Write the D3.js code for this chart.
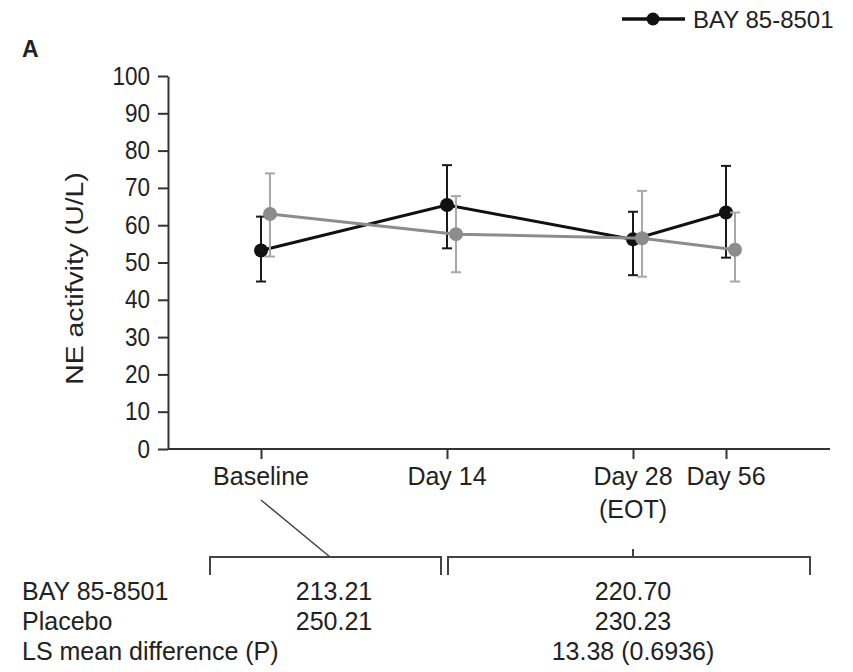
<!DOCTYPE html>
<meta charset="utf-8">
<style>
  body { margin: 0; background: #fff; }
  svg text { font-family: "Liberation Sans", Arial, sans-serif; fill: #222; }
  .axis path, .axis line { stroke: #333; stroke-width: 2; }
  .bracket { stroke: #444; stroke-width: 2; fill: none; }
</style>
<svg width="853" height="672"></svg>
<script src="https://d3js.org/d3.v7.min.js"></script>
<script>
// ---- data ----
var timeLabels = ["Baseline", "Day 14", "Day 28", "Day 56"];
var timeSub = ["", "", "(EOT)", ""];
var days = [0, 14, 28, 56];

var bayMean = [53.2, 65.4, 56.2, 63.4];
var bayLow  = [44.9, 53.8, 46.6, 51.3];
var bayHigh = [62.3, 76.1, 63.6, 75.9];

var plaMean = [63.0, 57.6, 56.5, 53.4];
var plaLow  = [51.6, 47.4, 46.2, 44.9];
var plaHigh = [73.9, 67.8, 69.2, 63.4];

var yTicks = [0, 10, 20, 30, 40, 50, 60, 70, 80, 90, 100];

var tableRows = ["BAY 85-8501", "Placebo", "LS mean difference (P)"];
var tableBaseline = ["213.21", "250.21", ""];
var tableEot = ["220.70", "230.23", "13.38 (0.6936)"];

// ---- layout ----
var svg = d3.select("svg");
var plotLeft = 168, plotRight = 830, plotTop = 76, plotBottom = 449;
var unit = 93;           // half the spacing between the first three visits
var slot = [1, 3, 5, 6]; // where each visit sits along the axis

var x = d3.scaleLinear()
    .domain(days)
    .range(slot.map(function(s) { return plotLeft + unit * s; }));
var y = d3.scaleLinear().domain([0, 100]).range([plotBottom, plotTop]);

// panel letter
svg.append("text")
    .attr("x", 22).attr("y", 57)
    .style("font-size", "23px").style("font-weight", "bold")
    .text("A");

// legend
var lg = svg.append("g").attr("transform", "translate(622,19)");
lg.append("line").attr("x1", 0).attr("x2", 63).attr("y1", 0).attr("y2", 0)
    .attr("stroke", "#111").attr("stroke-width", 3.5);
lg.append("circle").attr("cx", 31).attr("cy", 0).attr("r", 6.5).attr("fill", "#111");
lg.append("text").attr("x", 71).attr("y", 8.5)
    .style("font-size", "24px").text("BAY 85-8501");

// y axis
var yAxis = svg.append("g")
    .attr("class", "axis")
    .attr("transform", "translate(" + plotLeft + ",0)")
    .call(d3.axisLeft(y).tickValues(yTicks).tickSize(10).tickSizeOuter(0).tickPadding(8));
// labels are a little taller than wide in the original
yAxis.selectAll("text")
    .style("font-size", "25px").attr("fill", "#222")
    .attr("x", -18 / 0.9)
    .attr("transform", "scale(0.9,1)");

svg.append("text")
    .attr("transform", "translate(83," + ((plotTop + plotBottom) / 2 + 16) + ") rotate(-90) scale(1.18,1)")
    .attr("text-anchor", "middle")
    .style("font-size", "24px")
    .text("NE actifvity (U/L)");

// x axis
svg.append("line")
    .attr("x1", plotLeft).attr("x2", plotRight)
    .attr("y1", plotBottom).attr("y2", plotBottom)
    .attr("stroke", "#333").attr("stroke-width", 2);

var xAxis = svg.append("g")
    .attr("class", "axis")
    .attr("transform", "translate(0," + plotBottom + ")")
    .call(d3.axisBottom(x).tickValues(days).tickSize(10).tickSizeOuter(0).tickFormat(""));
xAxis.select(".domain").remove();

var xl = svg.append("g").selectAll("g")
    .data(days)
    .enter().append("g")
    .attr("transform", function(d) { return "translate(" + x(d) + "," + plotBottom + ")"; });
xl.append("text")
    .attr("y", 36).attr("text-anchor", "middle")
    .style("font-size", "25px")
    .text(function(d, i) { return timeLabels[i]; });
xl.append("text")
    .attr("y", 69).attr("text-anchor", "middle")
    .style("font-size", "25px")
    .text(function(d, i) { return timeSub[i]; });

// series
function drawSeries(mean, low, high, shift, lineColor, barColor) {
  var pts = days.map(function(d, i) {
    return { x: x(d) + shift, m: mean[i], lo: low[i], hi: high[i] };
  });
  var g = svg.append("g");

  g.append("path")
      .datum(pts)
      .attr("fill", "none")
      .attr("stroke", lineColor)
      .attr("stroke-width", 3)
      .attr("d", d3.line().x(function(p) { return p.x; }).y(function(p) { return y(p.m); }));

  var eb = g.selectAll(".eb").data(pts).enter().append("g")
      .attr("stroke", barColor).attr("stroke-width", 2);
  eb.append("line")
      .attr("x1", function(p) { return p.x; }).attr("x2", function(p) { return p.x; })
      .attr("y1", function(p) { return y(p.lo); }).attr("y2", function(p) { return y(p.hi); });
  eb.append("line")
      .attr("x1", function(p) { return p.x - 5; }).attr("x2", function(p) { return p.x + 5; })
      .attr("y1", function(p) { return y(p.hi); }).attr("y2", function(p) { return y(p.hi); });
  eb.append("line")
      .attr("x1", function(p) { return p.x - 5; }).attr("x2", function(p) { return p.x + 5; })
      .attr("y1", function(p) { return y(p.lo); }).attr("y2", function(p) { return y(p.lo); });

  g.selectAll("circle").data(pts).enter().append("circle")
      .attr("cx", function(p) { return p.x; })
      .attr("cy", function(p) { return y(p.m); })
      .attr("r", 7)
      .attr("fill", lineColor);
}

drawSeries(bayMean, bayLow, bayHigh, 0, "#111", "#1a1a1a");
drawSeries(plaMean, plaLow, plaHigh, 9, "#8c8c8c", "#a8a8a8");

// summary table under the chart
var brY = 557, brDrop = 18;
svg.append("path").attr("class", "bracket")
    .attr("d", "M210," + (brY + brDrop) + "V" + brY + "H441V" + (brY + brDrop));
svg.append("path").attr("class", "bracket")
    .attr("d", "M448," + (brY + brDrop) + "V" + brY + "H810V" + (brY + brDrop));
svg.append("line").attr("class", "bracket")
    .attr("x1", x(28)).attr("x2", x(28)).attr("y1", brY - 8).attr("y2", brY);
svg.append("line").attr("class", "bracket").style("stroke-width", 1.5)
    .attr("x1", x(0)).attr("y1", 500).attr("x2", 330).attr("y2", brY);

var rowY = [600, 630, 660];
var tr = svg.append("g").selectAll("g")
    .data(tableRows)
    .enter().append("g")
    .attr("transform", function(d, i) { return "translate(0," + rowY[i] + ")"; });
tr.append("text").attr("x", 22).style("font-size", "25px")
    .text(function(d) { return d; });
tr.append("text").attr("x", 334).attr("text-anchor", "middle").style("font-size", "25px")
    .text(function(d, i) { return tableBaseline[i]; });
tr.append("text").attr("x", 633).attr("text-anchor", "middle").style("font-size", "25px")
    .text(function(d, i) { return tableEot[i]; });
</script>
